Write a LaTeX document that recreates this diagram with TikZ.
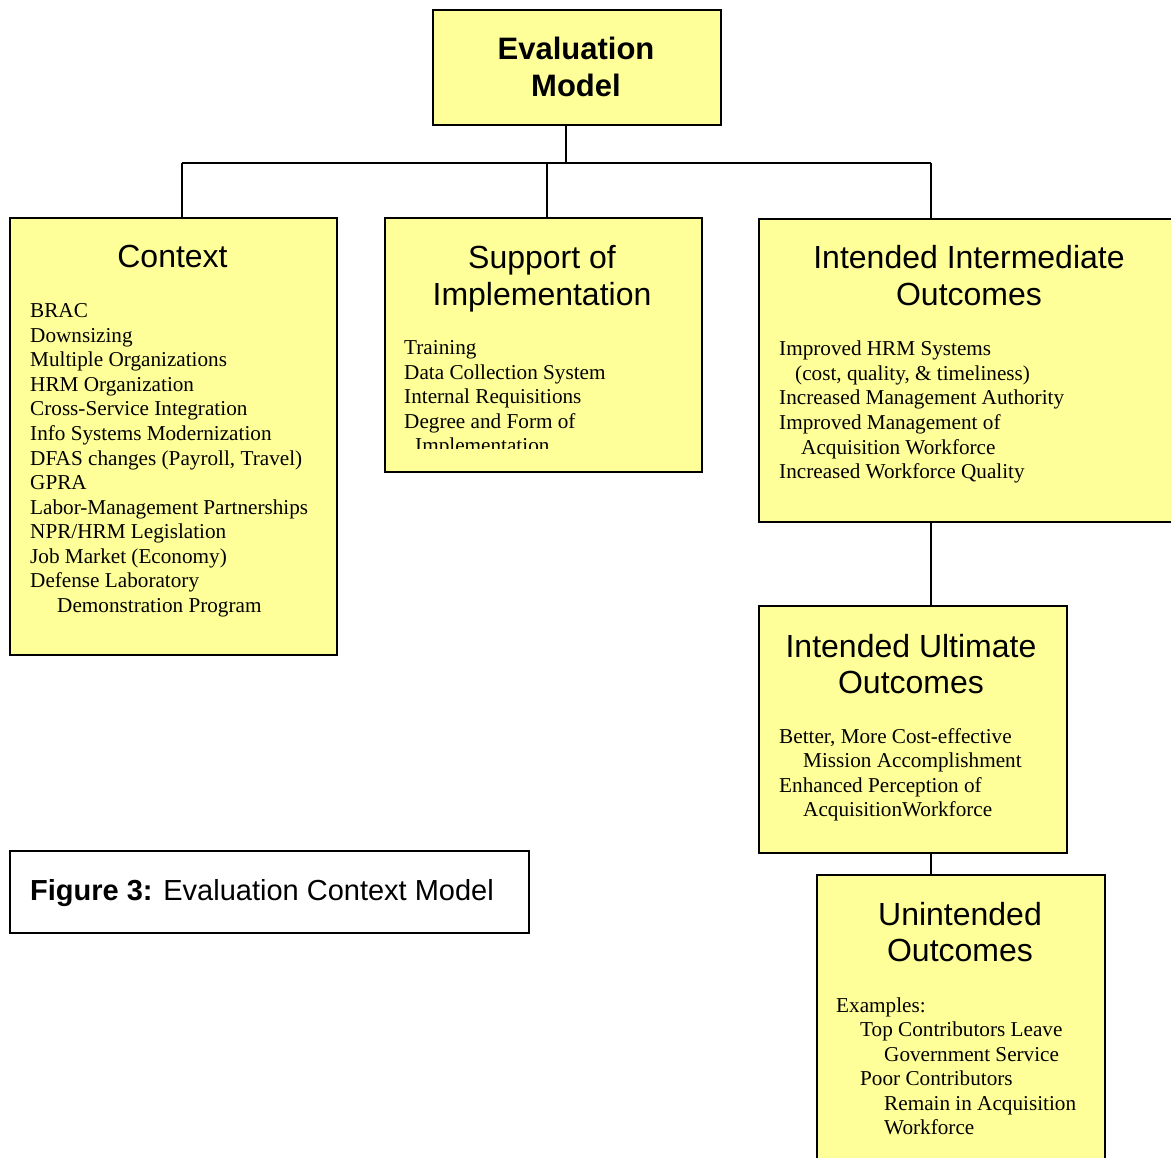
\documentclass[tikz,border=0pt]{standalone}
\usepackage{fontspec}
\setmainfont{Liberation Serif}
\setsansfont{Liberation Sans}
\definecolor{boxyellow}{RGB}{255,255,153}
\begin{document}
\begin{tikzpicture}[x=1pt,y=-1pt,
  box/.style={draw=black, line width=2pt, fill=boxyellow, anchor=north west, inner sep=0pt},
  conn/.style={draw=black, line width=2pt},
  ttl/.style={font=\sffamily\fontsize{32}{37}\selectfont, anchor=base, inner sep=0pt},
  bod/.style={font=\rmfamily\fontsize{21.2}{24.5}\selectfont, anchor=base west, inner sep=0pt}]
\clip (0,0) rectangle (1171,1158);
\fill[white] (0,0) rectangle (1171,1158);

% boxes
\node[box, minimum width=288pt, minimum height=115pt] (eval) at (432,9) {};
\node[box, minimum width=327pt, minimum height=437pt] (ctx) at (9,217) {};
\node[box, minimum width=317pt, minimum height=254pt] (sup) at (384,217) {};
\node[box, minimum width=440pt, minimum height=303pt] (inter) at (758,218) {};
\node[box, minimum width=308pt, minimum height=247pt] (ult) at (758,605) {};
\node[box, minimum width=288pt, minimum height=310pt] (unint) at (816,874) {};
\node[box, fill=white, minimum width=519pt, minimum height=82pt] (capbox) at (9,850) {};

% connectors
\coordinate (top) at (566,163);
\coordinate (busL) at (182,163);
\coordinate (busM) at (547,163);
\coordinate (busR) at (931,163);
\draw[conn] (eval.south -| top) -- (top);
\draw[conn] (busL) -- (busR);
\draw[conn] (busL) -- (busL |- ctx.north);
\draw[conn] (busM) -- (busM |- sup.north);
\draw[conn] (busR) -- (busR |- inter.north);
\draw[conn] (inter.south -| busR) -- (ult.north -| busR);
\draw[conn] (ult.south -| busR) -- (unint.north -| busR);

% titles
\node[ttl, font=\sffamily\bfseries\fontsize{31}{37}\selectfont] (evalA) at (576,59.5) {Evaluation};
\node[ttl, font=\sffamily\bfseries\fontsize{31}{37}\selectfont] (evalB) at (576,96.5) {Model};
\node[ttl] (ctxT) at (172.5,268) {Context};
\node[ttl] (supA) at (542,269) {Support of};
\node[ttl] (supB) at (542,306) {Implementation};
\node[ttl] (intA) at (969,269) {Intended Intermediate};
\node[ttl] (intB) at (969,306) {Outcomes};
\node[ttl] (ultA) at (911,657) {Intended Ultimate};
\node[ttl] (ultB) at (911,693) {Outcomes};
\node[ttl] (unA) at (960,925) {Unintended};
\node[ttl] (unB) at (960,961) {Outcomes};

% bodies
\foreach \txt [count=\i from 0] in {BRAC, Downsizing, Multiple Organizations, HRM Organization,
  Cross-Service Integration, Info Systems Modernization, {DFAS changes (Payroll, Travel)}, GPRA,
  Labor-Management Partnerships, NPR/HRM Legislation, Job Market (Economy), Defense Laboratory,
  {\hspace{27pt}Demonstration Program}}
  \node[bod] (ctxL\i) at (30,{318+24.5*\i}) {\txt};

\begin{scope}
\clip (384,217) rectangle (701,449);
\foreach \txt [count=\i from 0] in {Training, Data Collection System, Internal Requisitions,
  Degree and Form of, {\hspace{11pt}Implementation}}
  \node[bod] (supL\i) at (404,{355+24.5*\i}) {\txt};
\end{scope}

\foreach \txt [count=\i from 0] in {Improved HRM Systems, {\hspace{16pt}(cost, quality, \& timeliness)},
  Increased Management Authority, Improved Management of, {\hspace{22pt}Acquisition Workforce},
  Increased Workforce Quality}
  \node[bod] (intL\i) at (779,{356+24.5*\i}) {\txt};

\foreach \txt [count=\i from 0] in {{Better, More Cost-effective}, {\hspace{24pt}Mission Accomplishment},
  Enhanced Perception of, {\hspace{24pt}AcquisitionWorkforce}}
  \node[bod] (ultL\i) at (779,{743+24.5*\i}) {\txt};

\foreach \txt [count=\i from 0] in {Examples:, {\hspace{24pt}Top Contributors Leave},
  {\hspace{48pt}Government Service}, {\hspace{24pt}Poor Contributors},
  {\hspace{48pt}Remain in Acquisition}, {\hspace{48pt}Workforce}}
  \node[bod] (unL\i) at (836,{1012+24.5*\i}) {\txt};

% caption
\node[anchor=base west, inner sep=0pt, font=\sffamily\fontsize{29}{34}\selectfont] (capt) at (30,900)
  {\textbf{Figure 3:} Evaluation Context Model};
\end{tikzpicture}
\end{document}
